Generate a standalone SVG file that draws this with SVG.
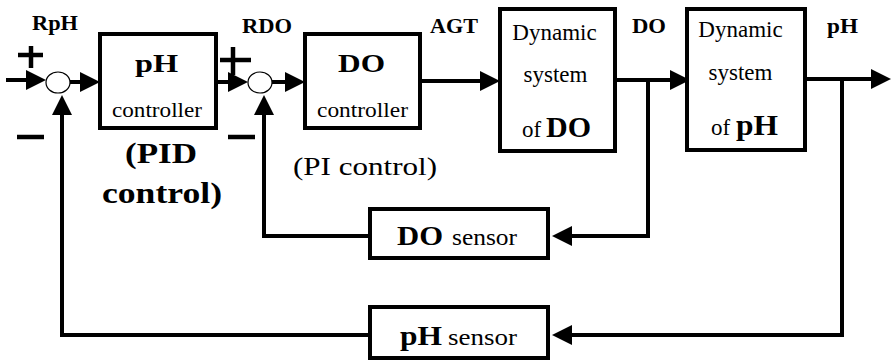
<svg xmlns="http://www.w3.org/2000/svg" width="891" height="361" viewBox="0 0 891 361">
<defs>
<style>
.box{fill:#fff;stroke:#000;stroke-width:4}
.sum{fill:#fff;stroke:#000;stroke-width:1.2}
.wire{fill:none;stroke:#000;stroke-width:4}
.sign{stroke:#000;stroke-width:4.5}
.t{font-family:'Liberation Serif','Times New Roman',serif;fill:#000}
.b{font-weight:bold}
</style>
<marker id="ah" markerUnits="userSpaceOnUse" markerWidth="22" markerHeight="22" refX="11" refY="10" orient="auto">
<path d="M0,0 L20,10 L0,20 z" fill="#000"/>
</marker>
</defs>
<rect width="891" height="361" fill="#fff"/>

<g id="connectors">
<path class="wire" d="M6,80 H37" marker-end="url(#ah)"/>
<path class="wire" d="M70,82 H91" marker-end="url(#ah)"/>
<path class="wire" d="M216,82 H239" marker-end="url(#ah)"/>
<path class="wire" d="M272,82 H296" marker-end="url(#ah)"/>
<path class="wire" d="M422,81 H491" marker-end="url(#ah)"/>
<path class="wire" d="M615,80 H681" marker-end="url(#ah)"/>
<path class="wire" d="M805,79 H882" marker-end="url(#ah)"/>
<path class="wire" d="M648,80 V236 H561" marker-end="url(#ah)"/>
<path class="wire" d="M842,79 V335 H561" marker-end="url(#ah)"/>
<path class="wire" d="M370,236 H264 V104" marker-end="url(#ah)"/>
<path class="wire" d="M370,335 H62 V104" marker-end="url(#ah)"/>
</g>

<g id="sum1">
<ellipse class="sum" cx="58" cy="82.5" rx="12" ry="10.5"/>
<line class="sign" x1="18" y1="55" x2="43" y2="55"/>
<line class="sign" x1="31" y1="46" x2="31" y2="68"/>
<line class="sign" x1="17" y1="137" x2="44" y2="137"/>
<text class="t b" x="32" y="30" font-size="20" textLength="46" lengthAdjust="spacingAndGlyphs">RpH</text>
</g>

<g id="sum2">
<ellipse class="sum" cx="260" cy="82.5" rx="12" ry="10.5"/>
<line class="sign" x1="220" y1="60" x2="251" y2="60"/>
<line class="sign" x1="233" y1="47" x2="233" y2="75"/>
<line class="sign" x1="228" y1="137" x2="255" y2="137"/>
<text class="t b" x="242" y="33" font-size="20" textLength="50" lengthAdjust="spacingAndGlyphs">RDO</text>
</g>

<g id="ph-controller">
<rect class="box" x="100" y="34" width="116" height="94"/>
<text class="t b" x="135" y="72" font-size="25" textLength="43" lengthAdjust="spacingAndGlyphs">pH</text>
<text class="t" x="112" y="117" font-size="20" textLength="90" lengthAdjust="spacingAndGlyphs">controller</text>
<text class="t b" x="125" y="163" font-size="30" textLength="72" lengthAdjust="spacingAndGlyphs">(PID</text>
<text class="t b" x="102" y="203" font-size="30" textLength="120" lengthAdjust="spacingAndGlyphs">control)</text>
</g>

<g id="do-controller">
<rect class="box" x="305" y="34" width="115" height="94"/>
<text class="t b" x="338" y="72" font-size="25" textLength="47" lengthAdjust="spacingAndGlyphs">DO</text>
<text class="t" x="317" y="117" font-size="20" textLength="91" lengthAdjust="spacingAndGlyphs">controller</text>
<text class="t" x="293" y="175" font-size="26" textLength="144" lengthAdjust="spacingAndGlyphs">(PI control)</text>
</g>

<g id="agt-label">
<text class="t b" x="430" y="33" font-size="20" textLength="48" lengthAdjust="spacingAndGlyphs">AGT</text>
</g>

<g id="dyn-do">
<rect class="box" x="500" y="9" width="115" height="142"/>
<text class="t" x="554.5" y="40" font-size="23" text-anchor="middle">Dynamic</text>
<text class="t" x="555.5" y="82" font-size="23" text-anchor="middle">system</text>
<text class="t" x="522" y="137" font-size="23">of</text>
<text class="t b" x="546" y="137" font-size="30">DO</text>
</g>

<g id="do-label">
<text class="t b" x="632" y="33" font-size="20" textLength="34" lengthAdjust="spacingAndGlyphs">DO</text>
</g>

<g id="dyn-ph">
<rect class="box" x="687" y="9" width="118" height="141"/>
<text class="t" x="740.5" y="37" font-size="23" text-anchor="middle">Dynamic</text>
<text class="t" x="740.5" y="80" font-size="23" text-anchor="middle">system</text>
<text class="t" x="711" y="135" font-size="23">of</text>
<text class="t b" x="736" y="135" font-size="30" textLength="42" lengthAdjust="spacingAndGlyphs">pH</text>
</g>

<g id="ph-label">
<text class="t b" x="827" y="33" font-size="20" textLength="31" lengthAdjust="spacingAndGlyphs">pH</text>
</g>

<g id="do-sensor">
<rect class="box" x="370" y="209" width="178" height="49"/>
<text class="t b" x="397" y="245" font-size="28" textLength="46" lengthAdjust="spacingAndGlyphs">DO</text>
<text class="t" x="452" y="245" font-size="24" textLength="65" lengthAdjust="spacingAndGlyphs">sensor</text>
</g>

<g id="ph-sensor">
<rect class="box" x="370" y="307" width="178" height="51"/>
<text class="t b" x="400" y="345" font-size="28" textLength="42" lengthAdjust="spacingAndGlyphs">pH</text>
<text class="t" x="448" y="345" font-size="24" textLength="69" lengthAdjust="spacingAndGlyphs">sensor</text>
</g>
</svg>
